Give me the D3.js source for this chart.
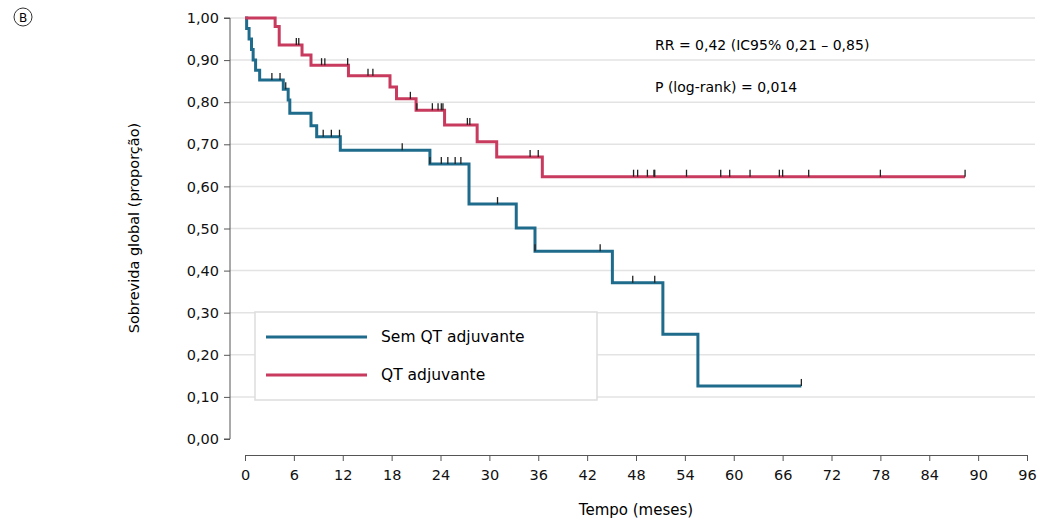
<!DOCTYPE html>
<html><head><meta charset="utf-8">
<script src="https://cdn.jsdelivr.net/npm/d3@7"></script>
<style>body{margin:0;background:#fff}text{font-family:"DejaVu Sans",sans-serif}</style>
</head><body><svg id="c" width="1042" height="526"></svg>
<script>
// step points [time, survival]
const semQT = [[0,1],[0.2,0.975],[0.5,0.95],[0.8,0.925],[1.0,0.90],[1.3,0.876],[1.8,0.853],[4.7,0.831],[5.3,0.805],[5.5,0.774],[8.1,0.744],[8.8,0.718],[11.7,0.686],[22.7,0.653],[27.5,0.558],[33.3,0.501],[35.6,0.446],[45.1,0.371],[51.3,0.249],[55.6,0.126],[68.3,0.126]];
const semQTCens = [3.3,4.3,5.0,9.6,10.6,11.6,19.3,22.7,24.1,24.9,25.8,26.5,31,35.6,43.6,47.6,50.3,68.3];
const comQT = [[0,1],[3.7,0.98],[4.2,0.936],[7.0,0.912],[8.1,0.888],[12.7,0.863],[17.8,0.836],[18.6,0.808],[21.0,0.781],[24.5,0.746],[28.5,0.706],[30.9,0.670],[36.5,0.623],[88.4,0.623]];
const comQTCens = [6.3,6.6,9.4,9.8,12.6,15.1,15.7,20.3,21.1,23,23.7,24.1,24.3,27.3,27.6,35,36,47.7,48.2,49.4,50.2,50.3,54.2,58.4,59.5,62.0,65.6,66,69.2,78,88.4];
const xTicks = d3.range(0, 97, 6);
const yTicks = d3.range(0, 11).map(d => d / 10);
const series = [
  {name: "Sem QT adjuvante", pts: semQT, cens: semQTCens, color: "#1f6b8c"},
  {name: "QT adjuvante", pts: comQT, cens: comQTCens, color: "#c83a5e"}
];

const svg = d3.select("#c");
const x = d3.scaleLinear().domain([0, 96]).range([245, 1027]);
const y = d3.scaleLinear().domain([0, 1]).range([439, 18]);
const fmt = d => d.toFixed(2).replace(".", ",");

// grid
svg.append("g").selectAll("line").data(yTicks.slice(1)).join("line")
  .attr("x1", 230).attr("x2", 1035).attr("y1", y).attr("y2", y)
  .attr("stroke", "#e3e3e3").attr("stroke-width", 1.5);

// axes
const ya = svg.append("g").attr("transform", "translate(230,0)")
  .call(d3.axisLeft(y).tickValues(yTicks).tickFormat(fmt).tickSize(6).tickPadding(5));
const xa = svg.append("g").attr("transform", "translate(0,455)")
  .call(d3.axisBottom(x).tickValues(xTicks).tickSize(6).tickPadding(9));
[ya, xa].forEach(a => {
  a.selectAll("path,line").attr("stroke", "#555");
  a.selectAll("text").attr("font-size", 14.5).attr("fill", "#111").style("font-family", "DejaVu Sans");
});
ya.select(".domain").attr("d", `M-6,${y(1)}H0V${y(0)}H-6`);

// curves
const line = d3.line().x(d => x(d[0])).y(d => y(d[1])).curve(d3.curveStepAfter);
function survAt(pts, t) { let s = 1; pts.forEach(p => { if (p[0] <= t) s = p[1]; }); return s; }
series.forEach(s => {
  svg.append("path").datum(s.pts).attr("d", line).attr("fill", "none")
    .attr("stroke", s.color).attr("stroke-width", 3);
  svg.append("g").selectAll("line").data(s.cens).join("line")
    .attr("x1", d => x(d)).attr("x2", d => x(d))
    .attr("y1", d => y(survAt(s.pts, d)) - 7).attr("y2", d => y(survAt(s.pts, d)))
    .attr("stroke", "#222").attr("stroke-width", 1.3);
});

// legend
svg.append("rect").attr("x", 255).attr("y", 312).attr("width", 342).attr("height", 88)
  .attr("fill", "#fff").attr("stroke", "#ddd").attr("stroke-width", 1.5);
series.forEach((s, i) => {
  const ly = 337 + i * 38;
  svg.append("line").attr("x1", 266).attr("x2", 367).attr("y1", ly).attr("y2", ly)
    .attr("stroke", s.color).attr("stroke-width", 3);
  svg.append("text").attr("x", 381).attr("y", ly + 5).attr("font-size", 15.5).text(s.name);
});

// annotations
svg.append("text").attr("x", 655).attr("y", 50).attr("font-size", 14).text("RR = 0,42 (IC95% 0,21 – 0,85)");
svg.append("text").attr("x", 655).attr("y", 92).attr("font-size", 14).text("P (log-rank) = 0,014");
svg.append("circle").attr("cx", 23).attr("cy", 17).attr("r", 9).attr("fill", "none").attr("stroke", "#333");
svg.append("text").attr("x", 23).attr("y", 22).attr("text-anchor", "middle").attr("font-size", 12).text("B");
svg.append("text").attr("transform", "translate(139,228) rotate(-90)").attr("text-anchor", "middle")
  .attr("font-size", 14.5).text("Sobrevida global (proporção)");
svg.append("text").attr("x", 636).attr("y", 515).attr("text-anchor", "middle").attr("font-size", 15).text("Tempo (meses)");
</script></body></html>
